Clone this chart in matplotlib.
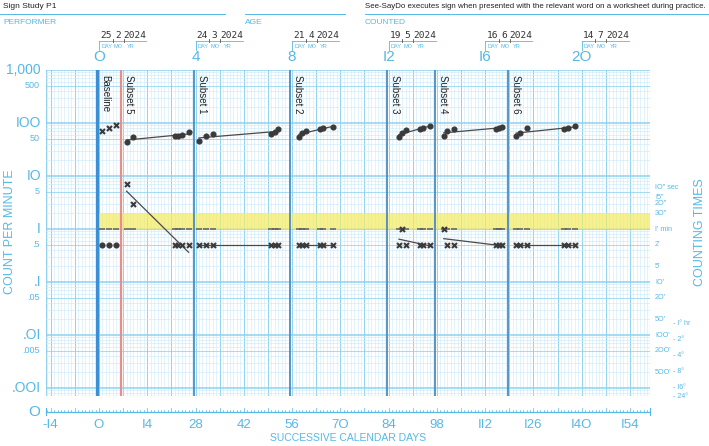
import numpy as np
import matplotlib
matplotlib.use("Agg")
import matplotlib.pyplot as plt
import matplotlib.transforms as mtransforms

# ---------------- data ----------------
phase_names = ["Baseline", "Subset 5", "Subset 1", "Subset 2", "Subset 3", "Subset 4", "Subset 6"]
phase_starts = [-0.5, 6.5, 27.5, 55.5, 83.5, 97.5, 118.5]
phase_colors = ["#3b8fd4", "#e58e8c", "#4a8cc2", "#4a8cc2", "#4a8cc2", "#4a8cc2", "#4a8cc2"]
phase_widths = [2.4, 1.6, 1.3, 1.3, 1.3, 1.3, 1.3]
phase_days = [
    [1, 3, 5],
    [8, 10, 22, 23, 24, 26],
    [29, 31, 33, 50, 51, 52],
    [58, 59, 60, 64, 65, 68],
    [87, 88, 89, 93, 94, 96],
    [100, 101, 103, 115, 116, 117],
    [121, 122, 124, 135, 136, 138],
]
dot_values = [
    [0.5, 0.5, 0.5],
    [44, 55, 56, 57, 59, 67],
    [46, 56, 62, 62, 67, 76],
    [55, 65, 72, 77, 80, 83],
    [55, 64, 74, 76, 79, 88],
    [56, 70, 77, 76, 79, 85],
    [57, 66, 79, 76, 79, 88],
]
x_values = [
    [72, 82, 92],
    [7, 3, 0.5, 0.5, 0.5, 0.5],
    [0.5, 0.5, 0.5, 0.5, 0.5, 0.5],
    [0.5, 0.5, 0.5, 0.5, 0.5, 0.5],
    [0.5, 1, 0.5, 0.5, 0.5, 0.5],
    [1, 0.5, 0.5, 0.5, 0.5, 0.5],
    [0.5, 0.5, 0.5, 0.5, 0.5, 0.5],
]
fit_lines = [False, True, True, True, True, True, True]
record_floor = 1.0
aim_band = (1.0, 2.0)

date_days = [0, 28, 56, 84, 112, 140]
date_labels = [("25", "2", "2024"), ("24", "3", "2024"), ("21", "4", "2024"),
               ("19", "5", "2024"), ("16", "6", "2024"), ("14", "7", "2024")]
week_days = [0, 28, 56, 84, 112, 140]
week_labels = ["O", "4", "8", "I2", "I6", "2O"]
day_ticks = [-14, 0, 14, 28, 42, 56, 70, 84, 98, 112, 126, 140, 154]
day_labels = ["-I4", "O", "I4", "28", "42", "56", "7O", "84", "98", "II2", "I26", "I4O", "I54"]
left_major = [1000, 100, 10, 1, 0.1, 0.01, 0.001]
left_major_labels = ["1,000", "IOO", "IO", "I", ".I", ".OI", ".OOI"]
left_minor = [500, 50, 5, 0.5, 0.05, 0.005]
left_minor_labels = ["500", "50", "5", ".5", ".05", ".005"]
right1_vals = [6, 4, 3, 2, 1, 0.5, 0.2, 0.1, 0.05, 0.02, 0.01, 0.005, 0.002]
right1_labels = ['IO" sec', 'I5"', '2O"', '3O"', "I' min", "2'", "5'", "IO'", "2O'", "5O'", "IOO'", "2OO'", "5OO'"]
right2_vals = [1/60, 1/120, 1/240, 1/480, 1/960, 1/1440]
right2_labels = ["- I° hr", "- 2°", "- 4°", "- 8°", "- I6°", "- 24°"]

performer = "Sign Study P1"
counted = "See-SayDo executes sign when presented with the relevant word on a worksheet during practice."

# ---------------- style ----------------
W, H = 709, 446
BLUE = "#55b8e6"
GRID_MINOR = "#cdebf8"
GRID_MAJOR = "#8fd2f0"
MARK = "#3a3a3a"
FONT = "Liberation Sans"
plt.rcParams["font.family"] = [FONT, "DejaVu Sans"]

fig = plt.figure(figsize=(W / 100, H / 100), dpi=100)
L, R, T, B = 45.5, 650.0, 70.0, 396.4
ax = fig.add_axes([L / W, 1 - B / H, (R - L) / W, (B - T) / H])
XMIN, XMAX = -15.5, 159.8
YMIN, YMAX = 1 / 1440, 1000
ax.set_xlim(XMIN, XMAX)
ax.set_yscale("log")
ax.set_ylim(YMIN, YMAX)
for s in ax.spines.values():
    s.set_visible(False)
ax.set_xticks([])
ax.set_yticks([])
ax.minorticks_off()

# grid
for d in range(-15, 160):
    major = d % 7 == 0
    ax.axvline(d, color=GRID_MAJOR if major else GRID_MINOR, lw=0.7 if major else 0.4, zorder=0)
ax.axvline(XMIN, color=GRID_MAJOR, lw=0.8, zorder=0)
ax.axvline(XMAX, color=GRID_MAJOR, lw=0.8, zorder=0)
for k in range(-4, 4):
    for m in range(1, 10):
        v = m * 10.0 ** k
        if YMIN <= v <= YMAX:
            if m == 1:
                ax.axhline(v, color=GRID_MAJOR, lw=1.1, zorder=0)
            elif m == 5:
                ax.axhline(v, color=GRID_MAJOR, lw=0.55, zorder=0)
            else:
                ax.axhline(v, color=GRID_MINOR, lw=0.45, zorder=0)
ax.axhline(YMIN, color=GRID_MAJOR, lw=0.8, zorder=0)

# aim band
ax.fill_between([phase_starts[0], XMAX], aim_band[0], aim_band[1], color="#f3ec6a", alpha=0.75, lw=0, zorder=1)

# phase lines & labels
for name, st, c, w in zip(phase_names, phase_starts, phase_colors, phase_widths):
    ax.axvline(st, color=c, lw=w, zorder=2)
    ax.text(st + 0.9, 0.985, name, transform=mtransforms.blended_transform_factory(ax.transData, ax.transAxes),
            rotation=270, ha="left", va="top", fontsize=7, color="#222222", zorder=5)

# data
for days, dv, xv, fit in zip(phase_days, dot_values, x_values, fit_lines):
    days = np.array(days, float)
    ax.plot(days, [record_floor] * len(days), ls="none", marker="_", ms=4.5, mew=1.1, color="#606060", zorder=3)
    ax.plot(days, dv, ls="none", marker="o", ms=3.4, color=MARK, zorder=4)
    ax.plot(days, xv, ls="none", marker="x", ms=3.6, mew=1.5, color=MARK, zorder=4)
    if fit:
        for vals in (dv, xv):
            p = np.polyfit(days, np.log10(vals), 1)
            xs = np.array([days.min(), days.max()])
            ax.plot(xs, 10 ** np.polyval(p, xs), color="#4a4a4a", lw=0.9, zorder=3)

bt = mtransforms.blended_transform_factory(ax.transData, ax.transAxes)
ta = mtransforms.blended_transform_factory(ax.transAxes, ax.transData)
px = 1.0 / (B - T)  # one pixel in axes-y units

# zero axis at bottom
zy = -(412 - B) * px
ax.plot([XMIN, XMAX], [zy, zy], transform=bt, color=BLUE, lw=0.9, clip_on=False)
for d in range(-15, 160):
    h = 4 if d % 7 == 0 else 2
    ax.plot([d, d], [zy, zy + h * px], transform=bt, color=BLUE, lw=0.5, clip_on=False)
for xe in (XMIN, XMAX):
    ax.plot([xe, xe], [zy - 3 * px, zy + 4 * px], transform=bt, color=BLUE, lw=0.8, clip_on=False)
fig.text(40 / W, 1 - 412 / H, "O", color=BLUE, fontsize=11, ha="right", va="center")
for d, lab in zip(day_ticks, day_labels):
    ax.text(d, -(425 - B) * px, lab, transform=bt, color=BLUE, fontsize=9.5, ha="center", va="center")
fig.text((L + R) / 2 / W, 1 - 438 / H, "SUCCESSIVE CALENDAR DAYS", color=BLUE, fontsize=7.5, ha="center", va="center")

# top week labels
for d, lab in zip(week_days, week_labels):
    ax.text(d, 1 + (T - 57) * px, lab, transform=bt, color=BLUE, fontsize=11, ha="center", va="center")


def fx(p):
    return p / W


def fy(p):
    return 1 - p / H


# date blocks
for d, (dd, mm, yy) in zip(date_days, date_labels):
    x0 = 99 + 3.448 * d
    fig.text(fx(x0 + 7), fy(35.5), dd, fontsize=6.8, family="DejaVu Sans Mono", color="#333333", ha="center", va="center")
    fig.text(fx(x0 + 19), fy(35.5), mm, fontsize=6.8, family="DejaVu Sans Mono", color="#333333", ha="center", va="center")
    fig.text(fx(x0 + 36), fy(35.5), yy, fontsize=6.8, family="DejaVu Sans Mono", color="#333333", ha="center", va="center")
    fig.add_artist(plt.Line2D([fx(x0), fx(x0 + 47)], [fy(41), fy(41)], color=BLUE, lw=0.6))
    fig.add_artist(plt.Line2D([fx(x0), fx(x0)], [fy(41), fy(50)], color=BLUE, lw=0.6))
    for sx in (x0 + 13.5, x0 + 24.5):
        fig.add_artist(plt.Line2D([fx(sx), fx(sx)], [fy(39), fy(42)], color="#555555", lw=0.6))
    for lab, off in (("DAY", 2), ("MO", 15), ("YR", 28)):
        fig.text(fx(x0 + off), fy(46), lab, fontsize=4, color=BLUE, ha="left", va="center")

# header
fig.text(3 / W, fy(6), performer, fontsize=6, color="#222222", ha="left", va="center")
fig.add_artist(plt.Line2D([0, 225 / W], [fy(14)] * 2, color=BLUE, lw=0.7))
fig.text(3 / W, fy(22), "PERFORMER", fontsize=6, color=BLUE, ha="left", va="center")
fig.add_artist(plt.Line2D([245 / W, 345 / W], [fy(14)] * 2, color=BLUE, lw=0.7))
fig.text(245 / W, fy(22), "AGE", fontsize=6, color=BLUE, ha="left", va="center")
fig.text(365 / W, fy(6), counted, fontsize=5.65, color="#222222", ha="left", va="center")
fig.add_artist(plt.Line2D([365 / W, 709 / W], [fy(14)] * 2, color=BLUE, lw=0.7))
fig.text(365 / W, fy(22), "COUNTED", fontsize=6, color=BLUE, ha="left", va="center")

# left labels
lx = (41 - L) / (R - L)
for v, lab in zip(left_major, left_major_labels):
    ax.text(lx, v, lab, transform=ta, color=BLUE, fontsize=10, ha="right", va="center")
for v, lab in zip(left_minor, left_minor_labels):
    ax.text(lx - 0.002, v, lab, transform=ta, color=BLUE, fontsize=6.5, ha="right", va="center")
fig.text(10 / W, fy(232), "COUNT PER MINUTE", color=BLUE, fontsize=9, rotation=90, ha="center", va="center")

# right labels
r1 = (655 - L) / (R - L)
r2 = (673 - L) / (R - L)
for v, lab in zip(right1_vals, right1_labels):
    ax.text(r1, v, lab, transform=ta, color=BLUE, fontsize=5.2, ha="left", va="center")
for v, lab in zip(right2_vals, right2_labels):
    ax.text(r2, v, lab, transform=ta, color=BLUE, fontsize=5.0, ha="left", va="center")
fig.text(700 / W, fy(232), "COUNTING TIMES", color=BLUE, fontsize=9, rotation=90, ha="center", va="center")

fig.savefig("out.png", dpi=100)
